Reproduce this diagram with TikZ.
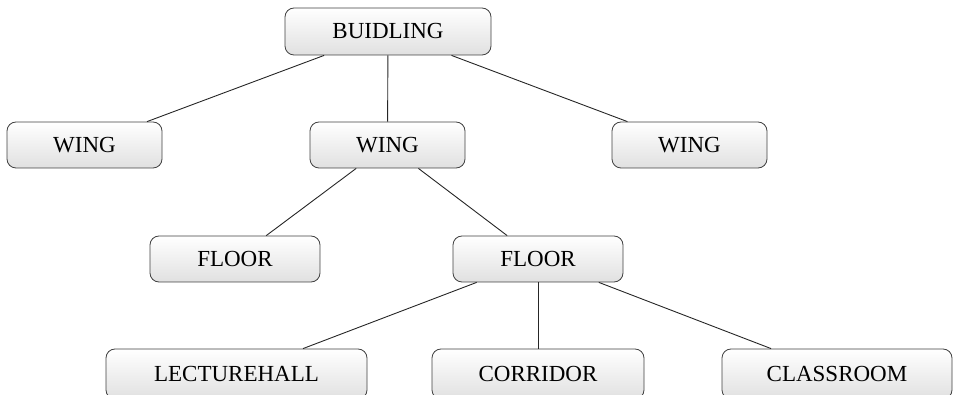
\documentclass[tikz,border=0pt]{standalone}
\usepackage{fontspec}
\setmainfont{Liberation Serif}
\begin{document}
\begin{tikzpicture}[x=1pt,y=-1pt,
  box/.style={rectangle, rounded corners=9pt, draw=black!75, line width=0.8pt,
    top color=white, bottom color=black!12, inner sep=0pt,
    minimum height=46pt, font=\fontsize{23}{27}\selectfont},
  link/.style={draw=black!85, line width=0.9pt}]
\useasboundingbox (0,0) rectangle (954,395);
\node[box, minimum width=206pt, minimum height=47pt] (b) at (388,31.5) {BUIDLING};
\node[box, minimum width=155pt] (w1) at (84.5,145) {WING};
\node[box, minimum width=155pt] (w2) at (387.5,145) {WING};
\node[box, minimum width=155pt] (w3) at (689.5,145) {WING};
\node[box, minimum width=170pt] (f1) at (235,259) {FLOOR};
\node[box, minimum width=170pt] (f2) at (538,259) {FLOOR};
\node[box, minimum width=261pt, minimum height=50pt] (l) at (236.5,374) {LECTUREHALL};
\node[box, minimum width=212pt, minimum height=50pt] (c) at (538,374) {CORRIDOR};
\node[box, minimum width=230pt, minimum height=50pt] (cl) at (837,374) {CLASSROOM};
\draw[link] (b) -- (w1);
\draw[link] (b) -- (w2);
\draw[link] (b) -- (w3);
\draw[link] (w2) -- (f1);
\draw[link] (w2) -- (f2);
\draw[link] (f2) -- (l);
\draw[link] (f2) -- (c);
\draw[link] (f2) -- (cl);
\end{tikzpicture}
\end{document}
